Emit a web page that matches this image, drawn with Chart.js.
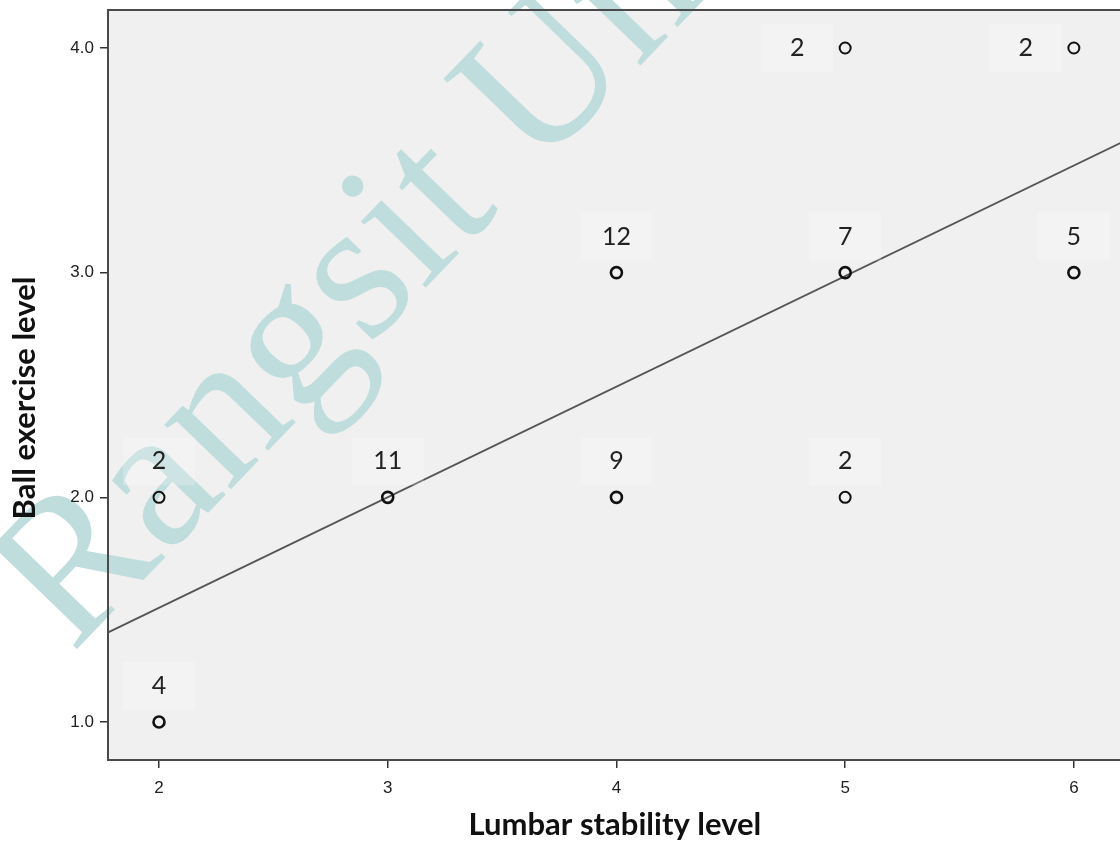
<!DOCTYPE html>
<html lang="en">
<head>
    <meta charset="UTF-8">
    <title>Lumbar stability vs Ball exercise level</title>
    <style>
        * { margin: 0; padding: 0; box-sizing: border-box; }
        html, body { width: 1120px; height: 844px; overflow: hidden; background: #fff; }
        .chart-box { width: 1130px; height: 844px; position: relative; }
    </style>
</head>
<body>
    <div class="chart-box">
        <canvas id="scatterChart"></canvas>
    </div>

    <script src="https://cdn.jsdelivr.net/npm/chart.js"></script>
    <script>
        // Data (value pairs and number of cases at each)
        const lumbarLevel = [2, 2, 3, 4, 4, 5, 5, 5, 6, 6];
        const ballLevel   = [1, 2, 2, 2, 3, 2, 3, 4, 3, 4];
        const caseCounts  = [4, 2, 11, 9, 12, 2, 7, 2, 5, 2];

        // Fit line end points as read at the plot edges
        const fitX = [1.78, 6.21];
        const fitY = [1.40, 3.58];

        const xTicks = [2, 3, 4, 5, 6];
        const yTicks = [1, 2, 3, 4];

        const xTitle = 'Lumbar stability level';
        const yTitle = 'Ball exercise level';
        const watermark = 'Rangsit University';

        const points = lumbarLevel.map((x, i) => ({ x: x, y: ballLevel[i] }));
        const fitLine = fitX.map((x, i) => ({ x: x, y: fitY[i] }));

        // Plot background, frame, watermark, y title and count labels
        const plotDecor = {
            id: 'plotDecor',
            beforeDraw(chart) {
                const { ctx, chartArea: a } = chart;
                ctx.save();
                ctx.fillStyle = '#f0f0f0';
                ctx.fillRect(a.left, a.top, a.right - a.left, a.bottom - a.top);
                // watermark under the axes
                ctx.translate(72, 654);
                ctx.rotate(-46 * Math.PI / 180);
                ctx.font = '202px "Liberation Serif"';
                ctx.fillStyle = '#c0dddd';
                ctx.fillText(watermark, 0, 0);
                ctx.restore();
            },
            beforeDatasetsDraw(chart) {
                const { ctx, chartArea: a } = chart;
                ctx.save();
                ctx.strokeStyle = '#4a4a4a';
                ctx.lineWidth = 2;
                ctx.strokeRect(a.left, a.top, a.right - a.left + 20, a.bottom - a.top);
                ctx.restore();

                ctx.save();
                ctx.translate(25, 398);
                ctx.rotate(-Math.PI / 2);
                ctx.font = 'bold 31px Lato';
                ctx.fillStyle = '#111';
                ctx.textAlign = 'center';
                ctx.textBaseline = 'middle';
                ctx.fillText(yTitle, 0, 0);
                ctx.restore();
            },
            afterDatasetsDraw(chart) {
                const { ctx } = chart;
                const meta = chart.getDatasetMeta(0);
                ctx.save();
                ctx.font = '25px Lato';
                ctx.textAlign = 'center';
                ctx.textBaseline = 'middle';
                meta.data.forEach((pt, i) => {
                    let lx = pt.x, ly = pt.y - 36;
                    if (ballLevel[i] === 4) { lx = pt.x - 48; ly = pt.y; }
                    ctx.fillStyle = 'rgba(255,255,255,0.22)';
                    ctx.fillRect(lx - 36, ly - 24, 72, 48);
                    ctx.fillStyle = '#222';
                    ctx.fillText(String(caseCounts[i]), lx, ly);
                });
                ctx.restore();
            }
        };

        const ctx = document.getElementById('scatterChart').getContext('2d');
        new Chart(ctx, {
            type: 'scatter',
            data: {
                datasets: [{
                    label: 'Cases',
                    data: points,
                    pointRadius: 5.5,
                    pointHoverRadius: 5.5,
                    pointBackgroundColor: 'rgba(0,0,0,0)',
                    pointBorderColor: '#111',
                    pointBorderWidth: caseCounts.map(c => c >= 4 ? 2.6 : 2),
                    order: 1
                }, {
                    type: 'line',
                    label: 'Fit',
                    data: fitLine,
                    borderColor: '#555',
                    borderWidth: 1.8,
                    pointRadius: 0,
                    fill: false,
                    order: 2
                }]
            },
            options: {
                responsive: true,
                maintainAspectRatio: false,
                animation: false,
                layout: { padding: { top: 10, right: 4, left: 0, bottom: 0 } },
                plugins: {
                    legend: { display: false },
                    tooltip: { enabled: false }
                },
                scales: {
                    x: {
                        type: 'linear',
                        min: 1.777,
                        max: 6.21,
                        afterFit(scale) {
                            scale.height = 84;
                            scale.paddingLeft = 0;
                            scale.paddingRight = 0;
                        },
                        afterBuildTicks(scale) { scale.ticks = xTicks.map(v => ({ value: v })); },
                        border: { display: false },
                        grid: {
                            drawOnChartArea: false,
                            drawTicks: true,
                            tickLength: 8,
                            tickColor: '#333',
                            lineWidth: 1.5
                        },
                        ticks: {
                            padding: 10,
                            color: '#222',
                            font: { family: '"Liberation Sans"', size: 17 },
                            callback: v => String(v)
                        },
                        title: {
                            display: true,
                            text: xTitle,
                            color: '#111',
                            font: { family: 'Lato', size: 31, weight: 'bold' },
                            padding: { top: 0, bottom: 0 }
                        }
                    },
                    y: {
                        type: 'linear',
                        min: 0.831,
                        max: 4.169,
                        afterFit(scale) {
                            scale.width = 108;
                            scale.paddingTop = 0;
                            scale.paddingBottom = 0;
                        },
                        afterBuildTicks(scale) { scale.ticks = yTicks.map(v => ({ value: v })); },
                        border: { display: false },
                        grid: {
                            drawOnChartArea: false,
                            drawTicks: true,
                            tickLength: 8,
                            tickColor: '#333',
                            lineWidth: 1.5
                        },
                        ticks: {
                            padding: 6,
                            color: '#222',
                            font: { family: '"Liberation Sans"', size: 17 },
                            callback: v => Number(v).toFixed(1)
                        }
                    }
                }
            },
            plugins: [plotDecor]
        });
    </script>
</body>
</html>
